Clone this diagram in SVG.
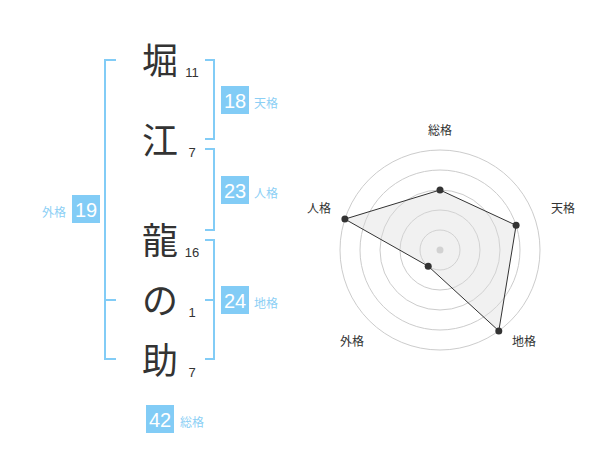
<svg xmlns="http://www.w3.org/2000/svg" width="600" height="470" viewBox="0 0 600 470">
<style>
.ch{font-family:"Noto Sans CJK JP","Noto Sans CJK SC",sans-serif;font-size:36px;fill:#333;text-anchor:middle}
.st{font-family:"Liberation Sans",Arial,sans-serif;font-size:13px;fill:#333;text-anchor:middle}
.bx{fill:#82ccf6}
.bn{font-family:"Liberation Sans",Arial,sans-serif;font-size:20px;fill:#fff;text-anchor:middle}
.bl{font-family:"Noto Sans CJK JP","Noto Sans CJK SC",sans-serif;font-size:12px;fill:#8ccff5}
.br{fill:none;stroke:#82ccf6;stroke-width:2}
.ring{fill:none;stroke:#cccccc;stroke-width:1}
.rl{font-family:"Noto Sans CJK JP","Noto Sans CJK SC",sans-serif;font-size:12px;fill:#333;text-anchor:middle}
.pt{fill:#333}
</style>
<rect width="600" height="470" fill="#fff"/>
<g id="connectors">
<path class="br" d="M205,60H214V139H205"/>
<path class="br" d="M205,149H214V230H205"/>
<path class="br" d="M205,240H214V359H205M205,300H214"/>
<path class="br" d="M116,60H105V359H116M105,300H116"/>
</g>
<g id="char-1"><text class="ch" x="160" y="74">堀</text><text class="st" x="192" y="77">11</text></g>
<g id="char-2"><text class="ch" x="160" y="154">江</text><text class="st" x="192" y="157">7</text></g>
<g id="char-3"><text class="ch" x="160" y="254">龍</text><text class="st" x="192" y="257">16</text></g>
<g id="char-4"><text class="ch" x="160" y="314">の</text><text class="st" x="192" y="317">1</text></g>
<g id="char-5"><text class="ch" x="160" y="374">助</text><text class="st" x="192" y="377">7</text></g>
<g id="tenkaku"><rect class="bx" x="221" y="86" width="28" height="28"/><text class="bn" x="235" y="108">18</text><text class="bl" x="254" y="108">天格</text></g>
<g id="jinkaku"><rect class="bx" x="221" y="176" width="28" height="28"/><text class="bn" x="235" y="198">23</text><text class="bl" x="254" y="198">人格</text></g>
<g id="chikaku"><rect class="bx" x="221" y="286" width="28" height="28"/><text class="bn" x="235" y="308">24</text><text class="bl" x="254" y="308">地格</text></g>
<g id="gaikaku"><rect class="bx" x="72" y="195" width="28" height="28"/><text class="bn" x="86" y="217">19</text><text class="bl" x="66" y="217" text-anchor="end">外格</text></g>
<g id="soukaku"><rect class="bx" x="146" y="405" width="28" height="28"/><text class="bn" x="160" y="427">42</text><text class="bl" x="180" y="427">総格</text></g>
<g id="radar">
<circle class="ring" cx="440" cy="250" r="20"/>
<circle class="ring" cx="440" cy="250" r="40"/>
<circle class="ring" cx="440" cy="250" r="60"/>
<circle class="ring" cx="440" cy="250" r="80"/>
<circle class="ring" cx="440" cy="250" r="100"/>
<circle cx="440" cy="250" r="3.5" fill="#cccccc"/>
<polygon points="440,190 516.1,225.3 498.8,330.9 428.2,266.2 344.9,219.1" fill="#dddddd" fill-opacity="0.4" stroke="#333" stroke-width="1"/>
<circle class="pt" cx="440" cy="190" r="3.5"/>
<circle class="pt" cx="516.1" cy="225.3" r="3.5"/>
<circle class="pt" cx="498.8" cy="330.9" r="3.5"/>
<circle class="pt" cx="428.2" cy="266.2" r="3.5"/>
<circle class="pt" cx="344.9" cy="219.1" r="3.5"/>
<text class="rl" x="440" y="135">総格</text>
<text class="rl" x="563" y="213">天格</text>
<text class="rl" x="319" y="213">人格</text>
<text class="rl" x="352" y="346">外格</text>
<text class="rl" x="524" y="346">地格</text>
</g>
</svg>
